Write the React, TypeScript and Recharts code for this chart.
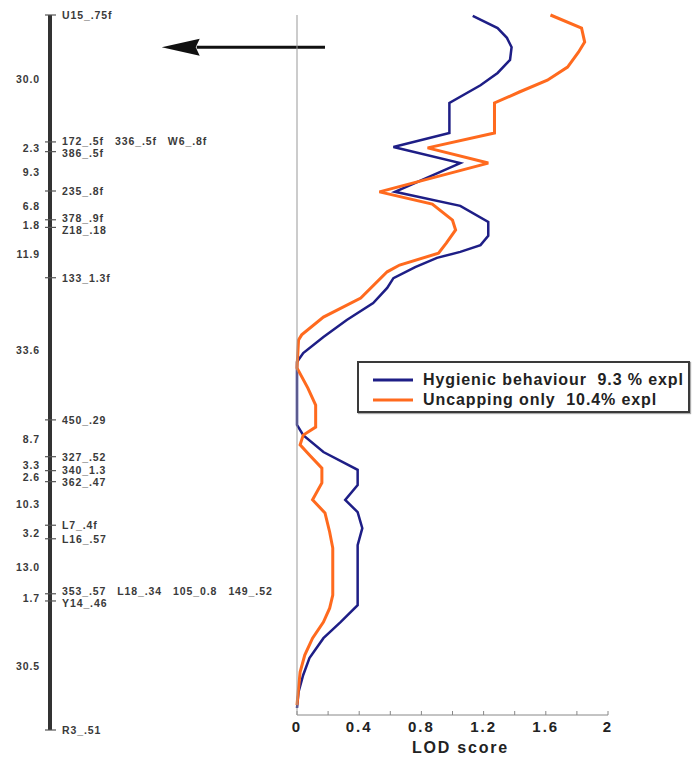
import React from "react"
import {
  ScatterChart,
  Scatter,
  LineChart,
  Line,
  XAxis,
  YAxis,
  ReferenceLine,
  Legend,
} from "recharts"

const W = 698
const H = 763
const FONT = "'Liberation Sans', Arial, sans-serif"

// linkage group, markers top to bottom
const MARKER_NAMES: string[][] = [
  ["U15_.75f"],
  ["172_.5f", "336_.5f", "W6_.8f"],
  ["386_.5f"],
  ["235_.8f"],
  ["378_.9f"],
  ["Z18_.18"],
  ["133_1.3f"],
  ["450_.29"],
  ["327_.52"],
  ["340_1.3"],
  ["362_.47"],
  ["L7_.4f"],
  ["L16_.57"],
  ["353_.57", "L18_.34", "105_0.8", "149_.52"],
  ["Y14_.46"],
  ["R3_.51"],
]
// cM between consecutive markers
const INTERVALS = [30.0, 2.3, 9.3, 6.8, 1.8, 11.9, 33.6, 8.7, 3.3, 2.6, 10.3, 3.2, 13.0, 1.7, 30.5]

// LOD profiles (position in cM along the group)
const HYG_POS = [0.2, 3.1, 5.4, 7.6, 10.6, 13.7, 16.6, 20.8, 27.9, 31.2, 35.0, 41.8, 45.1, 48.9, 52.2, 54.4, 56.0, 57.4, 59.6, 62.2, 64.5, 68.1, 72.1, 76.1, 79.9, 82.0, 96.9, 99.3, 103.3, 107.5, 111.1, 114.6, 117.5, 121.3, 125.3, 139.5, 143.5, 147.3, 152.0, 156.0, 160.0, 163.8]
const HYG_LOD = [1.13, 1.29, 1.35, 1.38, 1.37, 1.29, 1.18, 0.98, 0.98, 0.62, 1.05, 0.63, 1.05, 1.23, 1.23, 1.18, 1.05, 0.9, 0.76, 0.62, 0.58, 0.49, 0.32, 0.17, 0.04, 0.0, 0.0, 0.04, 0.17, 0.39, 0.39, 0.31, 0.39, 0.42, 0.39, 0.39, 0.28, 0.17, 0.08, 0.04, 0.01, 0.0]
const UNC_POS = [0, 3.1, 6.4, 8.8, 12.3, 15.4, 18.2, 20.8, 27.9, 31.4, 35.0, 41.8, 44.7, 48.5, 50.8, 53.9, 56.3, 59.1, 60.7, 66.9, 71.4, 75.6, 76.8, 83.4, 88.2, 92.2, 97.4, 99.3, 101.6, 104.0, 107.1, 110.6, 114.6, 117.7, 122.2, 126.0, 137.1, 140.2, 143.5, 147.3, 151.3, 155.3, 159.1, 163.1]
const UNC_LOD = [1.63, 1.83, 1.85, 1.81, 1.74, 1.61, 1.43, 1.27, 1.27, 0.84, 1.23, 0.53, 0.87, 1.0, 1.02, 0.96, 0.91, 0.66, 0.58, 0.41, 0.17, 0.03, 0.01, 0.0, 0.07, 0.12, 0.12, 0.04, 0.02, 0.08, 0.16, 0.16, 0.1, 0.18, 0.21, 0.23, 0.23, 0.21, 0.17, 0.1, 0.05, 0.02, 0.01, 0.0]

const SERIES_NAMES = ["Hygienic behaviour  9.3 % expl", "Uncapping only  10.4% expl"]
const SERIES_COLORS = ["#1e1e86", "#ff6a1e"]

const LOD_TICKS = [0, 0.2, 0.4, 0.6, 0.8, 1, 1.2, 1.4, 1.6, 1.8, 2]
const LOD_LABELS = ["0", "", "0.4", "", "0.8", "", "1.2", "", "1.6", "", "2"]

// arrow pointing at the peak region
const ARROW_CM = 7.6
const ARROW_FROM = 0.18
const ARROW_TO = -0.87

// layout
const MAP_TOP = 15
const MAP_BOTTOM = 730
const AXIS_Y = 715
const LOD_LEFT = 297
const LOD_RIGHT = 608

const positions = INTERVALS.reduce<number[]>((acc, d) => [...acc, acc[acc.length - 1] + d], [0])
const TOTAL_CM = positions[positions.length - 1]
const PX_PER_CM = (MAP_BOTTOM - MAP_TOP) / TOTAL_CM
const LOD_Y_MAX = (AXIS_Y - MAP_TOP) / PX_PER_CM
const Y_MINOR = Array.from({ length: Math.floor(LOD_Y_MAX / 3.4) + 1 }, (_, i) => i * 3.4)

const markerRows = MARKER_NAMES.map((names, i) => ({
  x: 0,
  pos: positions[i],
  names,
  gapUp: i > 0 ? positions[i] - positions[i - 1] : null,
  gapDown: i < positions.length - 1 ? positions[i + 1] - positions[i] : null,
}))
const intervalRows = INTERVALS.map((d, i) => ({
  x: 0,
  pos: (positions[i] + positions[i + 1]) / 2,
  label: d.toFixed(1),
}))
const hygData = HYG_POS.map((cM, i) => ({ cM, lod: HYG_LOD[i] }))
const uncData = UNC_POS.map((cM, i) => ({ cM, lod: UNC_LOD[i] }))

const MIN_LABEL_GAP = 12
function labelShift(gapUp: number | null, gapDown: number | null) {
  let s = 0
  if (gapDown != null && gapDown * PX_PER_CM < MIN_LABEL_GAP) s -= (MIN_LABEL_GAP - gapDown * PX_PER_CM) / 2
  if (gapUp != null && gapUp * PX_PER_CM < MIN_LABEL_GAP) s += (MIN_LABEL_GAP - gapUp * PX_PER_CM) / 2
  return s
}

const mapText = {
  fontFamily: FONT,
  fontSize: 10.5,
  fontWeight: "bold" as const,
  fill: "#3a3a3a",
  letterSpacing: 0.9,
}

const MarkerShape = (props: any) => {
  const { cx, cy, payload } = props
  const ly = cy + labelShift(payload.gapUp, payload.gapDown)
  return (
    <g>
      <line x1={cx - 5} y1={cy} x2={cx + 6} y2={cy} stroke="#555" strokeWidth={1.2} />
      <text x={cx + 12} y={ly} dominantBaseline="central" {...mapText}>
        {payload.names.map((n: string, i: number) => (
          <tspan key={n} dx={i === 0 ? 0 : 11}>
            {n}
          </tspan>
        ))}
      </text>
    </g>
  )
}

const IntervalShape = (props: any) => {
  const { cx, cy, payload } = props
  return (
    <text x={cx - 10} y={cy + 1} textAnchor="end" dominantBaseline="central" {...mapText}>
      {payload.label}
    </text>
  )
}

const ArrowShape = (p: any) => {
  const { x1, y1, x2, y2 } = p
  const len = 38
  const half = 8.5
  return (
    <g>
      <line x1={x1} y1={y1} x2={x2 + len - 3} y2={y2} stroke="#111" strokeWidth={3} />
      <polygon
        points={`${x2},${y2} ${x2 + len},${y2 - half} ${x2 + len - 4},${y2} ${x2 + len},${y2 + half}`}
        fill="#111"
      />
    </g>
  )
}

const renderLegend = (props: any) => (
  <div
    style={{
      width: 333,
      height: 52,
      boxSizing: "border-box",
      border: "2px solid #3a3a3a",
      background: "#fff",
      boxShadow: "1px 1px 1px #aaa",
      padding: "7px 0 0 14px",
    }}
  >
    {(props.payload || []).map((e: any) => (
      <div key={e.value} style={{ display: "flex", alignItems: "center", height: 20 }}>
        <svg width={40} height={6}>
          <line x1={0} y1={3} x2={40} y2={3} stroke={e.color} strokeWidth={3} />
        </svg>
        <span
          style={{
            marginLeft: 10,
            fontFamily: FONT,
            fontSize: 16,
            fontWeight: "bold",
            letterSpacing: 0.9,
            color: "#222",
            whiteSpace: "pre",
            lineHeight: "20px",
          }}
        >
          {e.value}
        </span>
      </div>
    ))}
  </div>
)

export default function App() {
  return (
    <div style={{ position: "absolute", left: 0, top: 0, width: W, height: H, background: "#fff" }}>
      <div style={{ position: "absolute", left: 0, top: 0 }}>
        <ScatterChart
          width={W}
          height={H}
          margin={{ top: MAP_TOP, bottom: H - MAP_BOTTOM, left: 50, right: 348 }}
        >
          <XAxis type="number" dataKey="x" domain={[0, 1]} hide />
          <YAxis type="number" dataKey="pos" domain={[0, TOTAL_CM]} reversed hide />
          <ReferenceLine x={0} stroke="#333" strokeWidth={4} />
          <Scatter data={markerRows} shape={<MarkerShape />} isAnimationActive={false} />
          <Scatter data={intervalRows} shape={<IntervalShape />} isAnimationActive={false} />
        </ScatterChart>
      </div>
      <div style={{ position: "absolute", left: 0, top: 0 }}>
        <LineChart
          layout="vertical"
          width={W}
          height={H}
          margin={{ top: MAP_TOP, bottom: 8, left: LOD_LEFT - 1, right: W - LOD_RIGHT }}
        >
          <XAxis
            type="number"
            domain={[0, 2]}
            ticks={LOD_TICKS}
            tickFormatter={(_v: number, i: number) => LOD_LABELS[i]}
            height={H - 8 - AXIS_Y}
            stroke="#888"
            tickSize={-4}
            tickMargin={10}
            tick={{ fill: "#222", fontSize: 15, fontWeight: "bold", fontFamily: FONT, letterSpacing: 2 }}
            label={{
              value: "LOD score",
              position: "insideBottom",
              offset: 2,
              dx: 8,
              fill: "#222",
              fontSize: 16,
              fontWeight: "bold",
              fontFamily: FONT,
              letterSpacing: 1.8,
            }}
          />
          <YAxis
            type="number"
            dataKey="cM"
            domain={[0, LOD_Y_MAX]}
            width={1}
            ticks={Y_MINOR}
            tick={false}
            tickSize={3}
            stroke="#999"
          />
          <ReferenceLine
            segment={[
              { x: ARROW_FROM, y: ARROW_CM },
              { x: ARROW_TO, y: ARROW_CM },
            ]}
            ifOverflow="visible"
            shape={ArrowShape}
          />
          <Line
            data={hygData}
            dataKey="lod"
            name={SERIES_NAMES[0]}
            type="linear"
            stroke={SERIES_COLORS[0]}
            strokeWidth={2.5}
            dot={false}
            isAnimationActive={false}
          />
          <Line
            data={uncData}
            dataKey="lod"
            name={SERIES_NAMES[1]}
            type="linear"
            stroke={SERIES_COLORS[1]}
            strokeWidth={3}
            dot={false}
            isAnimationActive={false}
          />
          <Legend
            layout="vertical"
            align="center"
            verticalAlign="middle"
            content={renderLegend}
            wrapperStyle={{ position: "absolute", left: 357, top: 361, width: 333, height: 52 }}
          />
        </LineChart>
      </div>
    </div>
  )
}
